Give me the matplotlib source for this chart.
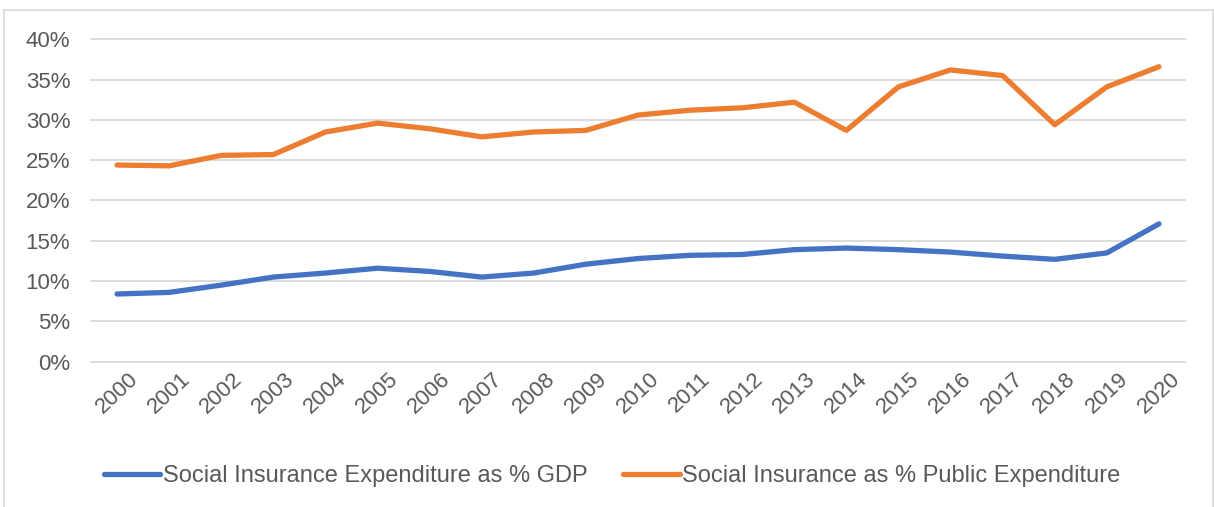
import numpy as np
import matplotlib.pyplot as plt
from matplotlib.lines import Line2D

plt.rcParams['font.family'] = ['Liberation Sans', 'DejaVu Sans']

years = [str(y) for y in range(2000, 2021)]
pct_gdp = [8.4, 8.6, 9.5, 10.5, 11.0, 11.6, 11.2, 10.5, 11.0, 12.1, 12.8,
           13.2, 13.3, 13.9, 14.1, 13.9, 13.6, 13.1, 12.7, 13.5, 17.1]
pct_public = [24.4, 24.3, 25.6, 25.7, 28.5, 29.6, 28.9, 27.9, 28.5, 28.7, 30.6,
              31.2, 31.5, 32.2, 28.7, 34.1, 36.2, 35.5, 29.4, 34.1, 36.6]

W, H = 1214, 507
fig = plt.figure(figsize=(W / 100, H / 100), dpi=100)

# light outer frame of the chart area
frame = [([4 / W, 4 / W], [0, 1 - 10 / H]),
         ([4 / W, 1212.5 / W], [1 - 10 / H, 1 - 10 / H]),
         ([1212.5 / W, 1212.5 / W], [1 - 10 / H, 0])]
for xs, ys in frame:
    fig.add_artist(Line2D(xs, ys, color='#D9D9D9', lw=1.2, transform=fig.transFigure))

ax = fig.add_axes([91 / W, 1 - 361.7 / H, 1094 / W, 322.4 / H])
x = np.arange(len(years))

ax.plot(x, pct_gdp, color='#4472C4', lw=3.8, solid_capstyle='round',
        solid_joinstyle='round', label='Social Insurance Expenditure as % GDP', zorder=3)
ax.plot(x, pct_public, color='#ED7D31', lw=3.8, solid_capstyle='round',
        solid_joinstyle='round', label='Social Insurance as % Public Expenditure', zorder=3)

ax.set_xlim(-0.5, len(years) - 0.5)
ax.set_ylim(0, 40)
ax.set_yticks(np.arange(0, 41, 5))
ax.set_yticklabels([f'{v}%' for v in range(0, 41, 5)])
ax.set_xticks(x)
ax.set_xticklabels(years, rotation=43, ha='center', va='top')

ax.grid(axis='y', color='#D9D9D9', lw=1.3)
for gl in ax.get_ygridlines():
    gl.set_clip_on(False)
ax.set_axisbelow(True)
for s in ax.spines.values():
    s.set_visible(False)

ax.tick_params(axis='both', length=0, labelsize=16, colors='#595959')
ax.tick_params(axis='y', pad=15)
ax.tick_params(axis='x', pad=5)

fig.legend(loc='center', bbox_to_anchor=(612 / W, 1 - 476 / H), ncol=2,
           frameon=False, fontsize=17, labelcolor='#595959',
           handlelength=2.4, handletextpad=0.1, columnspacing=1.5)

fig.savefig('out.png', dpi=100, facecolor='white')
